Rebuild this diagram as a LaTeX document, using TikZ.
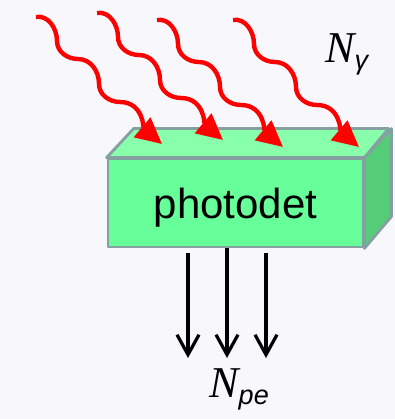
\documentclass[tikz,border=0pt]{standalone}
\usepackage{fontspec}
\setmainfont{Liberation Sans}
\newfontfamily\serifit{Liberation Serif}
\usetikzlibrary{arrows.meta}
\definecolor{bgcol}{HTML}{F7F7FC}
\definecolor{frontcol}{HTML}{66FF99}
\definecolor{topcol}{HTML}{88FFAA}
\definecolor{sidecol}{HTML}{55CC77}
\definecolor{edgecol}{HTML}{84A0A0}

\begin{document}
\begin{tikzpicture}[x=0.5pt,y=0.5pt,
  face/.style={draw=edgecol, line width=1.4pt, line join=round},
  front/.style={face, fill=frontcol, minimum width=127.5pt, minimum height=44pt, inner sep=0pt,
    text height=20.4pt, text depth=4.4pt, font=\fontsize{21}{25}\selectfont},
  photon/.style={red, line width=2.2pt, -{Triangle[length=13pt,width=12.5pt]}},
  pe/.style={line width=1.6pt, -{Straight Barb[length=10pt,width=11pt]}},
  lbl/.style={inner sep=0pt, anchor=base west}
]
  % page
  \fill[bgcol] (0,0) rectangle (395,419);
  \useasboundingbox (0,0) rectangle (395,419);

  % detector block (front, top, side)
  \node[front] (det) at (235.5,216) {photodet};
  \draw[face, fill=topcol] (det.north west) -- ++(27,29) -- ++(255,0) -- (det.north east) -- cycle;
  \draw[face, fill=sidecol] (det.north east) -- ++(27,29) -- ++(0,-88) -- (det.south east) -- cycle;

  % incoming photons
  \foreach \x/\y in {36/402, 97/406, 157/399, 233/399}
    \draw[photon] (\x,\y) to[out=10,in=90] ++(21,-24) to[out=-90,in=180] ++(21,-18)
      to[out=0,in=90] ++(21,-25) to[out=-90,in=180] ++(21,-18) to[out=0,in=140] ++(42,-42);

  % photoelectrons out
  \coordinate (e1) at (188,61);
  \coordinate (e2) at (227,61);
  \coordinate (e3) at (266,61);
  \draw[pe] ([yshift=-2.5pt]det.south -| e1) -- (e1);
  \draw[pe] (det.south -| e2) -- (e2);
  \draw[pe] ([yshift=-2.5pt]det.south -| e3) -- (e3);

  % labels
  \node[lbl] (ngam) at (325,357) {\fontsize{22}{26}\selectfont\serifit\itshape N\fontsize{13.5}{16}\selectfont\normalfont\itshape\raisebox{-3.5pt}{γ}};
  \node[lbl] (npe) at (209,22) {\fontsize{22}{26}\selectfont\serifit\itshape N\fontsize{13.5}{16}\selectfont\normalfont\itshape\raisebox{-4pt}{pe}};
\end{tikzpicture}
\end{document}
